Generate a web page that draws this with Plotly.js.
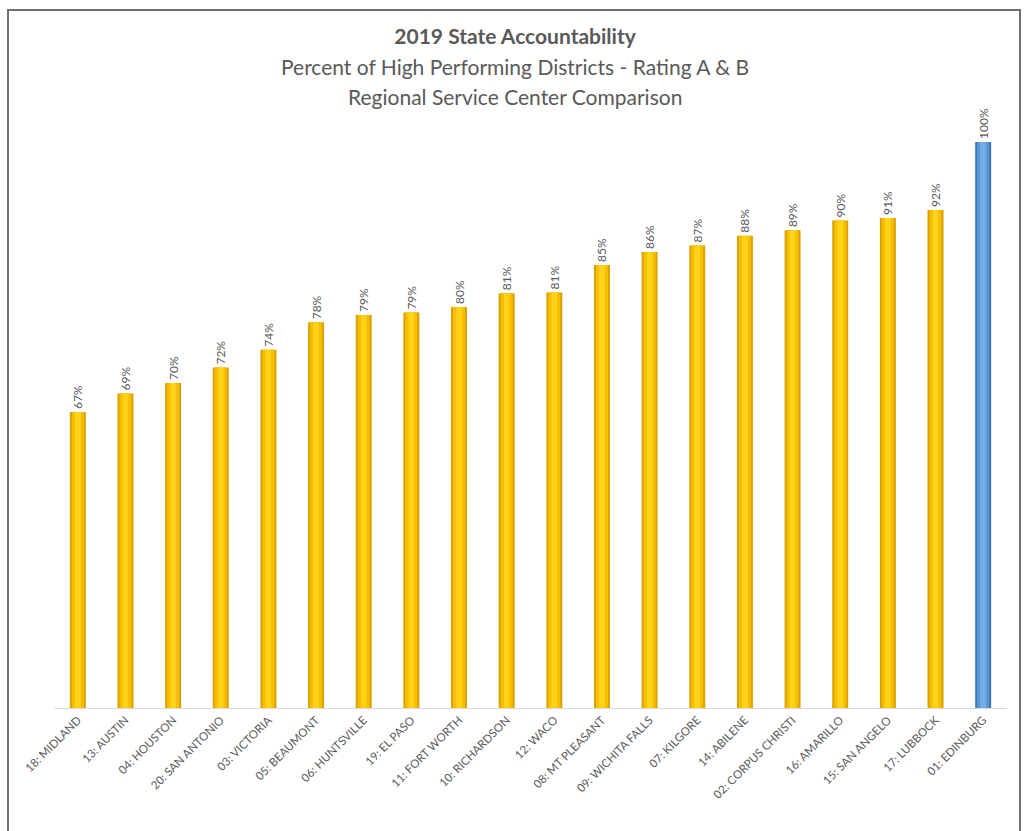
<!DOCTYPE html>
<html>
<head>
<meta charset="utf-8">
<script src="https://cdn.plot.ly/plotly-3.0.1.min.js"></script>
<style>
  html, body { margin: 0; padding: 0; background: #ffffff; }
  #chart { width: 1024px; height: 831px; }
</style>
</head>
<body>
<div id="chart"></div>
<script>
// ---- data ----
const regions = [
  '18: MIDLAND', '13: AUSTIN', '04: HOUSTON', '20: SAN ANTONIO', '03: VICTORIA',
  '05: BEAUMONT', '06: HUNTSVILLE', '19: EL PASO', '11: FORT WORTH', '10: RICHARDSON',
  '12: WACO', '08: MT PLEASANT', '09: WICHITA FALLS', '07: KILGORE', '14: ABILENE',
  '02: CORPUS CHRISTI', '16: AMARILLO', '15: SAN ANGELO', '17: LUBBOCK', '01: EDINBURG'
];
const pctHighPerforming = [
  66.6, 68.9, 70.2, 72.1, 74.3,
  77.7, 78.6, 78.9, 79.6, 81.3,
  81.4, 84.8, 86.4, 87.2, 88.4,
  89.1, 90.3, 90.6, 91.6, 100
];
const highlightRegion = '01: EDINBURG';

const titleLines = [
  '2019 State Accountability',
  'Percent of High Performing Districts - Rating A & B',
  'Regional Service Center Comparison'
];

// ---- styles ----
const gold = { edge: '#D9A200', mid: '#F7BE00', core: '#FFD31A' };
const blue = { edge: '#3F78B8', mid: '#5B97D3', core: '#75AEE4' };
const pick = (key) => regions.map(r => (r === highlightRegion ? blue : gold)[key]);
const FONT = 'Lato, "Open Sans", sans-serif';

const traces = [
  {
    type: 'bar',
    x: regions,
    y: pctHighPerforming,
    width: 0.335,
    marker: { color: pick('edge'), line: { width: 0 } },
    texttemplate: '%{y:.0f}%',
    textposition: 'outside',
    textangle: -90,
    constraintext: 'none',
    cliponaxis: false,
    textfont: { family: FONT, size: 12, color: '#595959' },
    hoverinfo: 'x+y'
  },
  {
    type: 'bar',
    x: regions,
    y: pctHighPerforming,
    width: 0.25,
    marker: { color: pick('mid'), line: { width: 0 } },
    hoverinfo: 'skip',
    cliponaxis: false
  },
  {
    type: 'bar',
    x: regions,
    y: pctHighPerforming,
    width: 0.12,
    marker: { color: pick('core'), line: { width: 0 } },
    hoverinfo: 'skip',
    cliponaxis: false
  }
];

const titleFont = { family: FONT, size: 21, color: '#595959' };

const layout = {
  width: 1024,
  height: 831,
  margin: { l: 54, r: 17, t: 142, b: 123 },
  paper_bgcolor: '#ffffff',
  plot_bgcolor: '#ffffff',
  barmode: 'overlay',
  showlegend: false,
  title: {
    text: '<b>' + titleLines[0] + '</b>',
    x: 0.503, xref: 'container', xanchor: 'center',
    y: 1 - 37 / 831, yref: 'container', yanchor: 'middle',
    font: titleFont
  },
  annotations: [
    {
      text: titleLines[1], showarrow: false,
      xref: 'paper', yref: 'paper', xanchor: 'center', yanchor: 'middle',
      x: (515 - 54) / 953, y: (708 - 66.5) / 566,
      font: titleFont
    },
    {
      text: titleLines[2], showarrow: false,
      xref: 'paper', yref: 'paper', xanchor: 'center', yanchor: 'middle',
      x: (515 - 54) / 953, y: (708 - 96) / 566,
      font: titleFont
    }
  ],
  xaxis: {
    type: 'category',
    tickangle: -45,
    showline: true,
    linecolor: '#d9d9d9',
    linewidth: 1,
    ticks: '',
    showgrid: false,
    tickfont: { family: FONT, size: 11.5, color: '#595959' },
    fixedrange: true
  },
  yaxis: {
    range: [30, 100],
    visible: false,
    showgrid: false,
    zeroline: false,
    fixedrange: true
  },
  shapes: [
    {
      type: 'rect', xref: 'paper', yref: 'paper',
      x0: (8 - 54) / 953, x1: (1020 - 54) / 953,
      y0: (708 - 860) / 566, y1: (708 - 10) / 566,
      line: { color: '#6f6f6f', width: 2 },
      fillcolor: 'rgba(0,0,0,0)'
    }
  ]
};

Plotly.newPlot('chart', traces, layout, { displayModeBar: false, staticPlot: true });
</script>
</body>
</html>
